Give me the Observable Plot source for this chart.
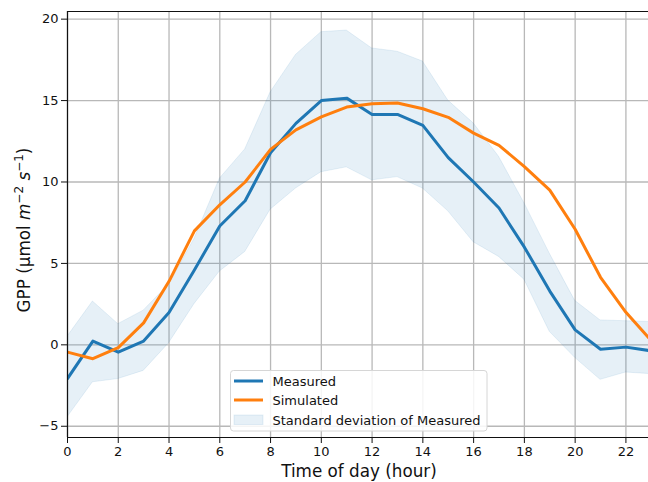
<!DOCTYPE html>
<html><head><meta charset="utf-8">
<script src="https://cdn.jsdelivr.net/npm/d3@7"></script>
<script src="https://cdn.jsdelivr.net/npm/@observablehq/plot@0.6"></script>
<style>body{margin:0;background:#fff}</style>
</head><body><div id="chart"></div>
<script>
const hours = [0,1,2,3,4,5,6,7,8,9,10,11,12,13,14,15,16,17,18,19,20,21,22,23];
const measured = [-2.07,0.23,-0.45,0.23,1.99,4.6,7.3,8.85,11.8,13.6,15.0,15.15,14.15,14.15,13.48,11.5,10.0,8.4,6.0,3.3,0.92,-0.27,-0.14,-0.37];
const simulated = [-0.45,-0.85,-0.17,1.35,3.9,7.0,8.6,10.0,12.0,13.2,14.0,14.6,14.8,14.85,14.5,13.97,13.0,12.25,10.95,9.5,7.1,4.15,2.0,0.26];
const sdUpper = [0.5,2.66,1.27,2.1,3.7,6.5,10.2,12.0,15.5,17.8,19.2,19.3,18.2,18.0,17.4,15.0,13.6,11.55,8.7,5.6,2.7,1.5,1.45,1.4];
const sdLower = [-4.45,-2.3,-2.1,-1.6,0.1,2.5,4.5,5.7,8.3,9.6,10.6,10.9,10.1,10.3,9.6,8.2,6.3,5.4,4.0,0.8,-0.8,-2.15,-1.7,-1.8];
const xTicks = [0,2,4,6,8,10,12,14,16,18,20,22];
const yTicks = [-5,0,5,10,15,20];
const seriesNames = ["Measured","Simulated","Standard deviation of Measured"];
const colors = ["#1f77b4","#ff7f0e"];
const xLabel = "Time of day (hour)";

const rows = hours.map((h,i)=>({h, m: measured[i], s: simulated[i], lo: sdLower[i], hi: sdUpper[i]}));
const yDom = [-5.69, 20.47];
const font = "DejaVu Sans";
const plot = Plot.plot({
  width: 648, height: 482,
  marginLeft: 67, marginTop: 11, marginRight: 0, marginBottom: 45,
  x: {domain: [0, 22.89]},
  y: {domain: yDom},
  style: {fontFamily: font, fontSize: "13px", color: "#111", background: "#fff"},
  marks: [
    Plot.gridX(xTicks, {stroke: "#b8b8b8", strokeOpacity: 1, strokeWidth: 1.3}),
    Plot.gridY(yTicks, {stroke: "#b8b8b8", strokeOpacity: 1, strokeWidth: 1.3}),
    Plot.areaY(rows, {x: "h", y1: "lo", y2: "hi", fill: colors[0], fillOpacity: 0.11, stroke: colors[0], strokeOpacity: 0.1, clip: true}),
    Plot.lineY(rows, {x: "h", y: "m", stroke: colors[0], strokeWidth: 3, clip: true}),
    Plot.lineY(rows, {x: "h", y: "s", stroke: colors[1], strokeWidth: 3, clip: true}),
    Plot.axisX({ticks: xTicks, tickSize: 6, tickPadding: 3, label: null, fontSize: 13}),
    Plot.axisY({ticks: yTicks, tickSize: 6, tickPadding: 3, label: null, fontSize: 13,
      tickFormat: d => d < 0 ? "\u2212" + (-d) : String(d)}),
    Plot.ruleX([0], {stroke: "#111", strokeWidth: 1.2}),
    Plot.ruleY(yDom, {stroke: "#111", strokeWidth: 1.2})
  ]
});
document.getElementById("chart").appendChild(plot);

const svg = d3.select(plot);
// x label
svg.append("text").attr("x", 359).attr("y", 476.5).attr("text-anchor", "middle")
  .attr("font-family", font).attr("font-size", 16.8).attr("fill", "#111").text(xLabel);
// y label
const yl = svg.append("text").attr("transform", "translate(29.5,230) rotate(-90)")
  .attr("text-anchor", "middle").attr("font-family", font).attr("font-size", 16.8).attr("fill", "#111");
yl.append("tspan").text("GPP (\u00b5mol ");
yl.append("tspan").attr("font-style", "italic").text("m");
yl.append("tspan").attr("font-size", 12).attr("dy", -6.5).text("\u22122");
yl.append("tspan").attr("dy", 6.5).text(" ");
yl.append("tspan").attr("font-style", "italic").text("s");
yl.append("tspan").attr("font-size", 12).attr("dy", -6.5).text("\u22121");
yl.append("tspan").attr("dy", 6.5).text(")");

// legend
const lg = svg.append("g").attr("text-anchor", "start");
lg.append("rect").attr("x", 230.5).attr("y", 370.5).attr("width", 256.5).attr("height", 60.5)
  .attr("rx", 3).attr("fill", "#fff").attr("fill-opacity", 0.85).attr("stroke", "#d6d6d6");
const rowsY = [381, 400, 419.5];
[0,1].forEach(i => {
  lg.append("line").attr("x1", 234).attr("x2", 263).attr("y1", rowsY[i]).attr("y2", rowsY[i])
    .attr("stroke", colors[i]).attr("stroke-width", 3);
});
lg.append("rect").attr("x", 234).attr("y", 415).attr("width", 29).attr("height", 9.5)
  .attr("fill", colors[0]).attr("fill-opacity", 0.11).attr("stroke", colors[0]).attr("stroke-opacity", 0.1);
seriesNames.forEach((n, i) => {
  lg.append("text").attr("x", 272.5).attr("y", rowsY[i] + 5).attr("text-anchor", "start")
    .attr("font-family", font).attr("font-size", 13).attr("fill", "#111").text(n);
});
</script>
</body></html>
